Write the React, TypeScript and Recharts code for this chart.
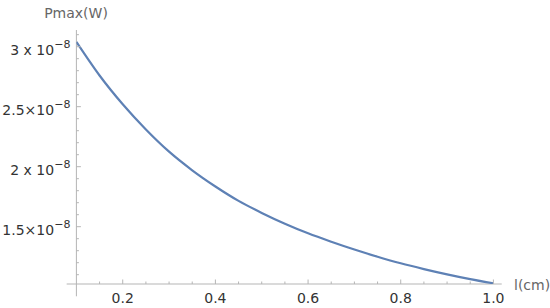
import { LineChart, Line, XAxis, YAxis, ReferenceLine } from "recharts";

// l (cm) sampled along the curve
const lengths = [
  0.1, 0.15, 0.2, 0.25, 0.3, 0.35, 0.4, 0.45, 0.5, 0.55, 0.6, 0.65, 0.7,
  0.75, 0.8, 0.85, 0.9, 0.95, 1.0,
];
// Pmax (W)
const pmax = [
  3.04e-8, 2.76e-8, 2.52e-8, 2.31e-8, 2.125e-8, 1.97e-8, 1.835e-8, 1.715e-8,
  1.615e-8, 1.525e-8, 1.445e-8, 1.375e-8, 1.31e-8, 1.25e-8, 1.195e-8,
  1.147e-8, 1.103e-8, 1.063e-8, 1.028e-8,
];

const xTicks = [
  0.15, 0.2, 0.25, 0.3, 0.35, 0.4, 0.45, 0.5, 0.55, 0.6, 0.65, 0.7, 0.75,
  0.8, 0.85, 0.9, 0.95, 1.0,
];
const xLabels = [0.2, 0.4, 0.6, 0.8, 1.0];
const yTicks = [
  1.1e-8, 1.2e-8, 1.3e-8, 1.4e-8, 1.5e-8, 1.6e-8, 1.7e-8, 1.8e-8, 1.9e-8,
  2.0e-8, 2.1e-8, 2.2e-8, 2.3e-8, 2.4e-8, 2.5e-8, 2.6e-8, 2.7e-8, 2.8e-8,
  2.9e-8, 3.0e-8, 3.1e-8,
];
const yLabels = [1.5e-8, 2e-8, 2.5e-8, 3e-8];

const data = lengths.map((l, i) => ({ l, p: pmax[i] }));

const axisColor = "#b5b5b5";
const labelColor = "#333";
const font = "'DejaVu Sans', sans-serif";

const isIn = (list: number[], v: number, eps: number) =>
  list.some((t) => Math.abs(t - v) < eps);

const XTick = ({ x, y, payload }: any) => {
  const major = isIn(xLabels, payload.value, 1e-6);
  return (
    <g>
      <line x1={x} x2={x} y1={y} y2={y - (major ? 4.5 : 2.5)} stroke={axisColor} />
      {major && (
        <text x={x} y={y + 19} textAnchor="middle" fontSize={14} fill={labelColor} fontFamily={font}>
          {payload.value.toFixed(1)}
        </text>
      )}
    </g>
  );
};

const YTick = ({ x, y, payload }: any) => {
  const major = isIn(yLabels, payload.value, 1e-12);
  const m = Math.round(payload.value * 1e9) / 10;
  const isInt = Number.isInteger(m);
  return (
    <g>
      <line x1={x} x2={x + (major ? 4.5 : 2.5)} y1={y} y2={y} stroke={axisColor} />
      {major && (
        <text x={x - 6} y={y + 8} textAnchor="end" fontSize={14} fill={labelColor} fontFamily={font}>
          {isInt ? `${m} x 10` : `${m}×10`}
          <tspan dy={-7} fontSize={11}>−8</tspan>
        </text>
      )}
    </g>
  );
};

export default function App() {
  return (
    <div style={{ position: "absolute", left: 0, top: 0, width: 550, height: 308, background: "#fff" }}>
      <LineChart width={550} height={308} data={data} margin={{ top: 30, right: 56.6, left: 0, bottom: 0 }}>
        <XAxis
          dataKey="l"
          type="number"
          domain={[0.1, 1.0]}
          allowDataOverflow
          ticks={xTicks}
          interval={0}
          tickSize={0}
          tickMargin={0}
          axisLine={false}
          tickLine={false}
          height={24}
          tick={<XTick />}
        />
        <YAxis
          type="number"
          domain={[1.0225e-8, 3.139e-8]}
          allowDataOverflow
          ticks={yTicks}
          interval={0}
          tickSize={0}
          tickMargin={0}
          axisLine={false}
          tickLine={false}
          width={76.4}
          tick={<YTick />}
        />
        <ReferenceLine
          segment={[{ x: 0.079, y: 1.0225e-8 }, { x: 1.018, y: 1.0225e-8 }]}
          stroke={axisColor}
          ifOverflow="visible"
        />
        <ReferenceLine
          segment={[{ x: 0.1, y: 0.92e-8 }, { x: 0.1, y: 3.139e-8 }]}
          stroke={axisColor}
          ifOverflow="visible"
        />
        <Line
          type="monotone"
          dataKey="p"
          stroke="#5e81b5"
          strokeWidth={2.2}
          dot={false}
          isAnimationActive={false}
        />
      </LineChart>
      <svg width={550} height={308} style={{ position: "absolute", left: 0, top: 0, pointerEvents: "none" }}>
        <text x={76} y={18} textAnchor="middle" fontSize={14} fill="#666" fontFamily={font}>
          Pmax(W)
        </text>
        <text x={514} y={290} fontSize={14} fill="#666" fontFamily={font}>
          l(cm)
        </text>
      </svg>
    </div>
  );
}
